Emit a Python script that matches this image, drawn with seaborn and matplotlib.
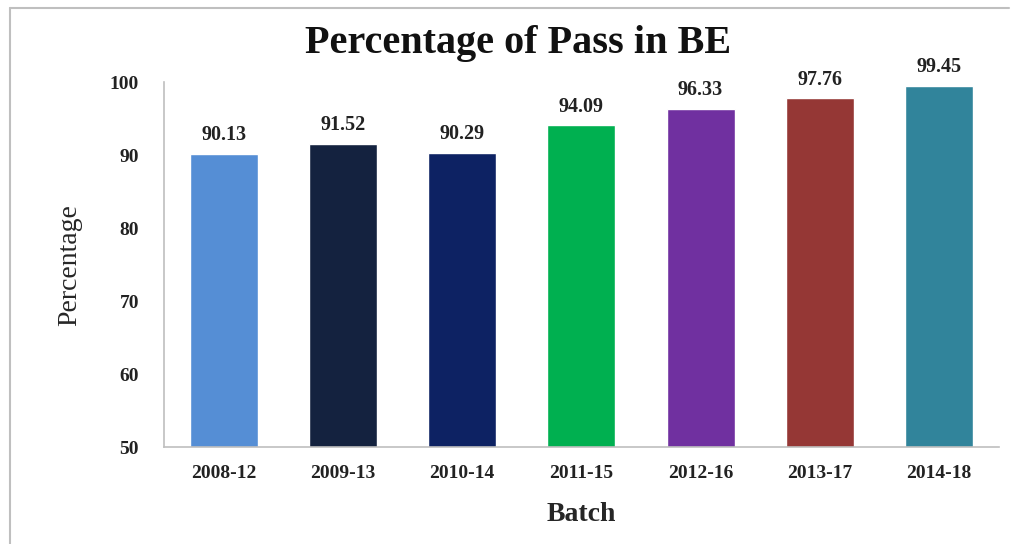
import matplotlib
matplotlib.use("Agg")
import matplotlib.pyplot as plt
from matplotlib.lines import Line2D
import seaborn as sns
import pandas as pd

# chart data
batches = ["2008-12", "2009-13", "2010-14", "2011-15", "2012-16", "2013-17", "2014-18"]
pass_pct = [90.13, 91.52, 90.29, 94.09, 96.33, 97.76, 99.45]
bar_colors = ["#558ED5", "#14223F", "#0D2263", "#00B050", "#7030A0", "#953735", "#31849B"]

df = pd.DataFrame({"Batch": batches, "Percentage": pass_pct})

sns.set_theme(style="white")
plt.rcParams["font.family"] = ["Liberation Serif", "DejaVu Serif"]

fig = plt.figure(figsize=(10.19, 5.44), dpi=100)
ax = fig.add_axes([0.161, 0.178, 0.819, 0.671])

sns.barplot(data=df, x="Batch", y="Percentage", hue="Batch", palette=bar_colors,
            legend=False, width=0.57, saturation=1, ax=ax)

ax.set_ylim(50, 100)
ax.set_yticks(range(50, 101, 10))
ax.set_xlim(-0.5, len(batches) - 0.5)

for i, v in enumerate(pass_pct):
    ax.text(i, v + 1.2, f"{v:.2f}", ha="center", va="bottom",
            fontsize=14.5, fontweight="bold", color="#222222")

for s in ["top", "right"]:
    ax.spines[s].set_visible(False)
for s in ["left", "bottom"]:
    ax.spines[s].set_color("#BFBFBF")
    ax.spines[s].set_linewidth(1.2)

ax.tick_params(axis="both", length=0, labelsize=14, colors="#222222")
for lbl in ax.get_xticklabels() + ax.get_yticklabels():
    lbl.set_fontweight("bold")
ax.tick_params(axis="x", pad=13)
ax.tick_params(axis="y", pad=18)

ax.set_xlabel("Batch", fontsize=20, fontweight="bold", labelpad=14)
ax.set_ylabel("Percentage", fontsize=20, labelpad=20)

fig.text(0.508, 0.92, "Percentage of Pass in BE", ha="center", va="center",
         fontsize=29, fontweight="bold", color="#111111")

# frame lines around the chart
fig.add_artist(Line2D([0.010, 0.99], [0.985, 0.985], color="#BFBFBF", lw=1.5))
fig.add_artist(Line2D([0.010, 0.010], [0.0, 0.985], color="#BFBFBF", lw=1.5))

fig.savefig("out.png", dpi=100)
